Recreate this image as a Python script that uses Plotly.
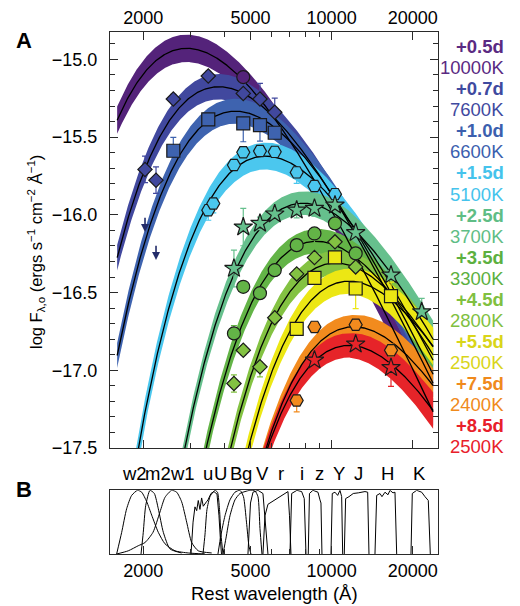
import numpy as np
import plotly.graph_objects as go

# ---------------- data ----------------
FILTERS = ["w2", "m2", "w1", "u", "U", "B", "g", "V", "r", "i", "z", "Y", "J", "H", "K"]
FILTER_WAVE = [2030, 2230, 2585, 3485, 3638, 4340, 4700, 5421, 6150, 7419, 8635, 10290, 12280, 16610, 21590]
FILTER_LABEL_WAVE = [1863, 2274, 2800, 3485, 3875, 4416, 4839, 5529, 6486, 7740, 8997, 10675, 12559, 16143, 21150]

EPOCHS = ["+0.5d", "+0.7d", "+1.0d", "+1.5d", "+2.5d", "+3.5d", "+4.5d", "+5.5d", "+7.5d", "+8.5d"]
TEMPS = [10000, 7600, 6600, 5100, 3700, 3300, 2800, 2500, 2400, 2500]
PEAK_LOGF = [-14.929, -15.176, -15.333, -15.622, -15.925, -16.17, -16.31, -16.427, -16.72, -16.84]
BAND_HALF = [0.088, 0.082, 0.080, 0.086, 0.075, 0.078, 0.078, 0.080, 0.075, 0.078]
BAND_WIDEN = [0.0, 0.1, 0.2, 0.6, 1.2, 1.4, 1.5, 1.6, 1.6, 1.6]
BAND_COLORS = ["#54237a", "#41489e", "#3e63af", "#4bc7ee", "#66c08d", "#63b447", "#83c242", "#ece714", "#f28b1e", "#e62429"]
TEXT_COLORS = ["#5a2a82", "#3f4a9f", "#3c5fae", "#45c3ec", "#5fbd85", "#5cb040", "#80c040", "#d9d51a", "#f08a1c", "#e8202a"]
SYMBOLS = ["circle", "diamond", "square", "hexagon2", "star", "circle", "diamond", "square", "hexagon2", "star"]
SIZES = [13, 11, 13, 13, 14, 13, 11, 13, 13, 14]

# observed points per epoch (filter, log flux, error up, error down)
P05_FILT = ["g"]
P05_LOGF = [-15.114]
P05_EUP = [0.04]
P05_EDN = [0.04]

P07_FILT = ["w2", "m2", "w1", "u", "g", "V", "r"]
P07_LOGF = [-15.708, -15.777, -15.255, -15.107, -15.219, -15.255, -15.340]
P07_EUP = [0.085, 0.085, 0.03, 0.03, 0.03, 0.10, 0.09]
P07_EDN = [0.085, 0.085, 0.03, 0.03, 0.03, 0.03, 0.03]

P10_FILT = ["w1", "u", "g", "V", "r"]
P10_LOGF = [-15.588, -15.386, -15.412, -15.423, -15.472]
P10_EUP = [0.086, 0.03, 0.03, 0.03, 0.03]
P10_EDN = [0.03, 0.03, 0.118, 0.103, 0.03]
P10_LIMIT_FILT = ["w2", "m2"]
P10_LIMIT_TOP = [-16.01, -16.19]
P10_LIMIT_TIP = [-16.11, -16.29]

P15_FILT = ["u", "U", "B", "g", "V", "r", "i", "z", "Y"]
P15_LOGF = [-15.970, -15.927, -15.680, -15.598, -15.590, -15.595, -15.727, -15.815, -15.867]
P15_EUP = [0.03, 0.03, 0.03, 0.03, 0.03, 0.03, 0.03, 0.03, 0.03]
P15_EDN = [0.065, 0.06, 0.03, 0.03, 0.03, 0.03, 0.071, 0.03, 0.03]

P25_FILT = ["B", "g", "V", "r", "i", "z", "Y", "J", "H", "K"]
P25_LOGF = [-16.345, -16.079, -16.055, -15.995, -15.970, -15.959, -15.938, -16.115, -16.388, -16.624]
P25_EUP = [0.118, 0.12, 0.04, 0.04, 0.05, 0.05, 0.03, 0.03, 0.03, 0.086]
P25_EDN = [0.118, 0.12, 0.04, 0.04, 0.05, 0.05, 0.03, 0.03, 0.03, 0.03]

P35_FILT = ["B", "g", "V", "r", "i", "z", "Y", "J"]
P35_LOGF = [-16.763, -16.463, -16.504, -16.356, -16.195, -16.120, -16.055, -16.248]
P35_EUP = [0.05, 0.03, 0.03, 0.03, 0.03, 0.03, 0.03, 0.03]
P35_EDN = [0.03, 0.03, 0.03, 0.03, 0.03, 0.12, 0.03, 0.03]

P45_FILT = ["B", "g", "V", "r", "i", "z", "Y", "J"]
P45_LOGF = [-17.085, -16.871, -16.978, -16.662, -16.380, -16.275, -16.174, -16.335]
P45_EUP = [0.055, 0.03, 0.03, 0.03, 0.03, 0.03, 0.03, 0.03]
P45_EDN = [0.055, 0.03, 0.065, 0.03, 0.03, 0.03, 0.03, 0.03]

P55_FILT = ["i", "z", "Y", "J", "H"]
P55_LOGF = [-16.734, -16.406, -16.274, -16.474, -16.523]
P55_EUP = [0.03, 0.03, 0.03, 0.03, 0.09]
P55_EDN = [0.03, 0.03, 0.03, 0.13, 0.03]

P75_FILT = ["i", "z", "J", "H"]
P75_LOGF = [-17.194, -16.721, -16.707, -16.871]
P75_EUP = [0.03, 0.03, 0.03, 0.04]
P75_EDN = [0.073, 0.03, 0.03, 0.04]

P85_FILT = ["z", "J", "H"]
P85_LOGF = [-16.935, -16.832, -16.983]
P85_EUP = [0.03, 0.03, 0.03]
P85_EDN = [0.03, 0.03, 0.12]

POINTS = [
    (P05_FILT, P05_LOGF, P05_EUP, P05_EDN),
    (P07_FILT, P07_LOGF, P07_EUP, P07_EDN),
    (P10_FILT, P10_LOGF, P10_EUP, P10_EDN),
    (P15_FILT, P15_LOGF, P15_EUP, P15_EDN),
    (P25_FILT, P25_LOGF, P25_EUP, P25_EDN),
    (P35_FILT, P35_LOGF, P35_EUP, P35_EDN),
    (P45_FILT, P45_LOGF, P45_EUP, P45_EDN),
    (P55_FILT, P55_LOGF, P55_EUP, P55_EDN),
    (P75_FILT, P75_LOGF, P75_EUP, P75_EDN),
    (P85_FILT, P85_LOGF, P85_EUP, P85_EDN),
]

# filter transmission curves (wavelength in A, relative transmission)
TR_W2_L = [1593, 1663, 1735, 1811, 1905, 1973, 2060, 2149, 2274, 2408, 2623, 2940, 3388]
TR_W2_T = [0, 0.34, 0.71, 0.92, 1.0, 0.97, 0.82, 0.61, 0.34, 0.16, 0.05, 0.016, 0]
TR_M2_L = [1962, 2000, 2042, 2118, 2198, 2274, 2374, 2513, 2776]
TR_M2_T = [0, 0.34, 0.76, 1.0, 0.95, 0.71, 0.34, 0.08, 0.016]
TR_W1_L = [1593, 1759, 1916, 2030, 2173, 2307, 2408, 2550, 2661, 2776, 2898, 3025, 3199, 3588]
TR_W1_T = [0, 0.05, 0.13, 0.18, 0.34, 0.66, 0.89, 1.0, 0.97, 0.82, 0.5, 0.18, 0.05, 0.016]
TR_US_L = [3007, 3060, 3111, 3157, 3199, 3246, 3293, 3340, 3432, 3477, 3566, 3659, 3755, 3819, 3869, 3902]
TR_US_T = [0, 0.5, 0.74, 0.68, 0.84, 0.7, 0.88, 0.75, 0.82, 0.85, 0.95, 0.98, 0.94, 0.6, 0.2, 0]
TR_UJ_L = [3331, 3388, 3447, 3536, 3628, 3690, 3770, 3836, 3885, 3953]
TR_UJ_T = [0, 0.3, 0.7, 0.9, 0.97, 1.0, 0.97, 0.7, 0.3, 0]
TR_B_L = [3786, 3885, 4020, 4195, 4378, 4569, 4708, 4831, 4935, 5020]
TR_B_T = [0, 0.3, 0.6, 0.85, 0.97, 1.0, 0.9, 0.5, 0.12, 0]
TR_G_L = [3953, 4055, 4195, 4378, 4569, 4769, 4977, 5194, 5329, 5421, 5514]
TR_G_T = [0, 0.25, 0.6, 0.85, 0.95, 0.98, 1.0, 0.99, 0.9, 0.4, 0]
TR_V_L = [4892, 4999, 5107, 5329, 5560, 5681, 5803]
TR_V_T = [0, 0.8, 0.97, 1.0, 0.95, 0.5, 0]
TR_R_L = [5560, 5657, 5803, 6002, 6317, 6654, 6886, 6976, 7065]
TR_R_T = [0, 0.6, 0.78, 0.82, 0.88, 0.95, 0.98, 0.6, 0]
TR_I_L = [7004, 7108, 7434, 7740, 7914, 8031]
TR_I_T = [0, 0.95, 1.0, 0.98, 0.87, 0]
TR_Z_L = [8189, 8274, 8525, 8898, 9051, 9129, 9207]
TR_Z_T = [0, 0.95, 1.0, 0.97, 0.85, 0.8, 0]
TR_Y_L = [9944, 10056, 10290, 10530, 10739, 10896, 10990]
TR_Y_T = [0, 0.95, 0.97, 0.92, 1.0, 0.9, 0]
TR_J_L = [11140, 11272, 11598, 12030, 12559, 13296, 13607, 13759]
TR_J_T = [0, 0.87, 0.9, 0.95, 0.96, 0.98, 0.97, 0]
TR_H_L = [14483, 14695, 15114, 15374, 15776, 16186, 16464, 16890, 17183, 17434]
TR_H_T = [0, 0.92, 0.95, 0.9, 0.97, 0.93, 1.0, 0.96, 0.97, 0]
TR_K_L = [19701, 19921, 20685, 21588, 22206, 22841, 23235]
TR_K_T = [0, 0.95, 1.0, 0.97, 0.9, 0.84, 0]
TRANSMISSION = [
    (TR_W2_L, TR_W2_T, "spline"), (TR_M2_L, TR_M2_T, "spline"), (TR_W1_L, TR_W1_T, "spline"),
    (TR_US_L, TR_US_T, "linear"), (TR_UJ_L, TR_UJ_T, "spline"), (TR_B_L, TR_B_T, "spline"),
    (TR_G_L, TR_G_T, "spline"), (TR_V_L, TR_V_T, "linear"), (TR_R_L, TR_R_T, "linear"),
    (TR_I_L, TR_I_T, "linear"), (TR_Z_L, TR_Z_T, "linear"), (TR_Y_L, TR_Y_T, "linear"),
    (TR_J_L, TR_J_T, "linear"), (TR_H_L, TR_H_T, "linear"), (TR_K_L, TR_K_T, "linear"),
]

X_RANGE = [1505, 24816]
Y_RANGE = [-17.5, -14.824]
X_TICKS = [2000, 5000, 10000, 20000]
X_MINOR = [3000, 4000, 6000, 7000, 8000, 9000]
Y_TICKS = [-17.5, -17.0, -16.5, -16.0, -15.5, -15.0]
MODEL_RANGE = [1600, 23800]

FONT = "Liberation Sans, Arial, Helvetica, sans-serif"
AXC = "#2a2a2a"

# ---------------- model (blackbody at the labelled temperature) ----------------
C2 = 1.4388e8  # hc/k in A K
WIEN = 2.8978e7


def log_planck(lam, T):
    return -5 * np.log10(lam) - np.log10(np.expm1(C2 / (lam * T)))


lam = np.logspace(np.log10(MODEL_RANGE[0]), np.log10(MODEL_RANGE[1]), 500)
fw = dict(zip(FILTERS, FILTER_WAVE))

fig = go.Figure()

curves = []
for T, pk, hw, wd in zip(TEMPS, PEAK_LOGF, BAND_HALF, BAND_WIDEN):
    lpk = WIEN / T
    logf = pk + log_planck(lam, T) - log_planck(lpk, T)
    half = hw * (1 + wd * np.clip(np.log10(lam) - np.log10(lpk), 0, None))
    curves.append((logf, half))

# bands
for (logf, half), col in zip(curves, BAND_COLORS):
    fig.add_trace(go.Scatter(
        x=np.concatenate([lam, lam[::-1]]),
        y=np.concatenate([logf + half, (logf - half)[::-1]]),
        fill="toself", fillcolor=col, line=dict(width=0), mode="lines",
        hoverinfo="skip", xaxis="x", yaxis="y"))

# fitted lines
for logf, half in curves:
    fig.add_trace(go.Scatter(x=lam, y=logf, mode="lines",
                             line=dict(color="black", width=1.3),
                             hoverinfo="skip", xaxis="x", yaxis="y"))

# data points
for (filt, vals, eup, edn), col, sym, sz in zip(POINTS, BAND_COLORS, SYMBOLS, SIZES):
    fig.add_trace(go.Scatter(
        x=[fw[f] for f in filt], y=vals, mode="markers",
        marker=dict(symbol=sym, size=sz, color=col, line=dict(color="#1a1a1a", width=1.2)),
        error_y=dict(type="data", symmetric=False, array=eup, arrayminus=edn,
                     color=col, thickness=1.2, width=3),
        xaxis="x", yaxis="y"))

annotations = []
# upper limits (+1.0d)
for f, top, tip in zip(P10_LIMIT_FILT, P10_LIMIT_TOP, P10_LIMIT_TIP):
    annotations.append(dict(
        x=np.log10(fw[f]), y=tip, xref="x", yref="y", ax=np.log10(fw[f]), ay=top,
        axref="x", ayref="y", showarrow=True, arrowhead=2, arrowsize=1.0,
        arrowwidth=1.6, arrowcolor="#232c6a", text=""))

# filter curves (panel B)
for L, Tr, shape in TRANSMISSION:
    fig.add_trace(go.Scatter(x=L, y=Tr, mode="lines",
                             line=dict(color="black", width=1, shape=shape, smoothing=0.6),
                             hoverinfo="skip", xaxis="x2", yaxis="y2"))

# ---------------- layout ----------------
# the page body adds an 8px offset, so the figure is 8px smaller and shifted
OFF = 8
W, H = 520 - OFF, 606 - OFF
L_M, R_M, T_M, B_M = 110 - OFF, 82, 32 - OFF, 52
PLOT_H = H - T_M - B_M
PLOT_W = W - L_M - R_M


def py(p):  # page pixel y -> paper
    return (H - B_M - (p - OFF)) / PLOT_H


def px(p):  # page pixel x -> paper
    return (p - OFF - L_M) / PLOT_W


# right-hand labels
for i, (ep, T, col) in enumerate(zip(EPOCHS, TEMPS, TEXT_COLORS)):
    annotations.append(dict(x=px(506), y=py(46.7 + 21.05 * (2 * i)), xref="paper", yref="paper",
                            text="<b>%s</b>" % ep, showarrow=False, xanchor="right", yanchor="middle",
                            font=dict(size=18.5, color=col, family=FONT)))
    annotations.append(dict(x=px(506), y=py(46.7 + 21.05 * (2 * i + 1)), xref="paper", yref="paper",
                            text="%dK" % T, showarrow=False, xanchor="right", yanchor="middle",
                            font=dict(size=18.5, color=col, family=FONT)))

# filter labels above panel B
for f, lw in zip(FILTERS, FILTER_LABEL_WAVE):
    annotations.append(dict(x=np.log10(lw), y=py(473), xref="x2", yref="paper", text=f,
                            showarrow=False, xanchor="center", yanchor="middle",
                            font=dict(size=18.5, color="black", family=FONT)))

# panel letters and titles
annotations += [
    dict(x=px(24), y=py(40), xref="paper", yref="paper", text="<b>A</b>", showarrow=False,
         xanchor="center", yanchor="middle", font=dict(size=22, family=FONT, color="black")),
    dict(x=px(24), y=py(489), xref="paper", yref="paper", text="<b>B</b>", showarrow=False,
         xanchor="center", yanchor="middle", font=dict(size=22, family=FONT, color="black")),
    dict(x=px(36), y=py(252), xref="paper", yref="paper", textangle=-90,
         text="log F<sub>λ,o</sub> (ergs s<sup>−1</sup> cm<sup>−2</sup> Å<sup>−1</sup>)",
         showarrow=False, xanchor="center", yanchor="middle",
         font=dict(size=16.5, family=FONT, color="black")),
    dict(x=0.5, y=py(593), xref="paper", yref="paper", text="Rest wavelength (Å)",
         showarrow=False, xanchor="center", yanchor="middle",
         font=dict(size=18.5, family=FONT, color="black")),
]

xr = [np.log10(X_RANGE[0]), np.log10(X_RANGE[1])]
common_x = dict(type="log", range=xr, tickvals=X_TICKS, ticktext=[str(v) for v in X_TICKS],
                ticks="inside", ticklen=8, tickwidth=1, tickcolor=AXC, showline=True,
                linecolor=AXC, linewidth=1.3, showgrid=False, zeroline=False,
                tickfont=dict(size=18, family=FONT, color="black"),
                minor=dict(tickvals=X_MINOR, ticks="inside", ticklen=5, tickwidth=1,
                           tickcolor=AXC, showgrid=False))

fig.update_layout(
    width=W, height=H, margin=dict(l=L_M, r=R_M, t=T_M, b=B_M, autoexpand=False),
    paper_bgcolor="white", plot_bgcolor="white", showlegend=False,
    font=dict(family=FONT, size=17, color="black"),
    xaxis=dict(common_x, domain=[0, 1], anchor="y", side="top", mirror="allticks"),
    yaxis=dict(domain=[py(448), 1], anchor="x", range=Y_RANGE, tickvals=Y_TICKS,
               tickformat=".1f", ticks="inside", ticklen=8, tickwidth=1, tickcolor=AXC,
               showline=True, linecolor=AXC, linewidth=1.3, mirror="allticks",
               showgrid=False, zeroline=False, ticklabelstandoff=8,
               tickfont=dict(size=18, family=FONT, color="black"),
               minor=dict(dtick=0.1, tick0=-17.5, ticks="inside", ticklen=5, tickwidth=1,
                          tickcolor=AXC, showgrid=False)),
    xaxis2=dict(common_x, domain=[0, 1], anchor="y2", side="bottom", mirror=True),
    yaxis2=dict(domain=[0, py(490.3)], anchor="x2", range=[0, 1.0], showticklabels=False,
                ticks="", showline=True, linecolor=AXC, linewidth=1.3, mirror=True,
                showgrid=False, zeroline=False),
    annotations=annotations,
)

fig.write_html("out.html")
